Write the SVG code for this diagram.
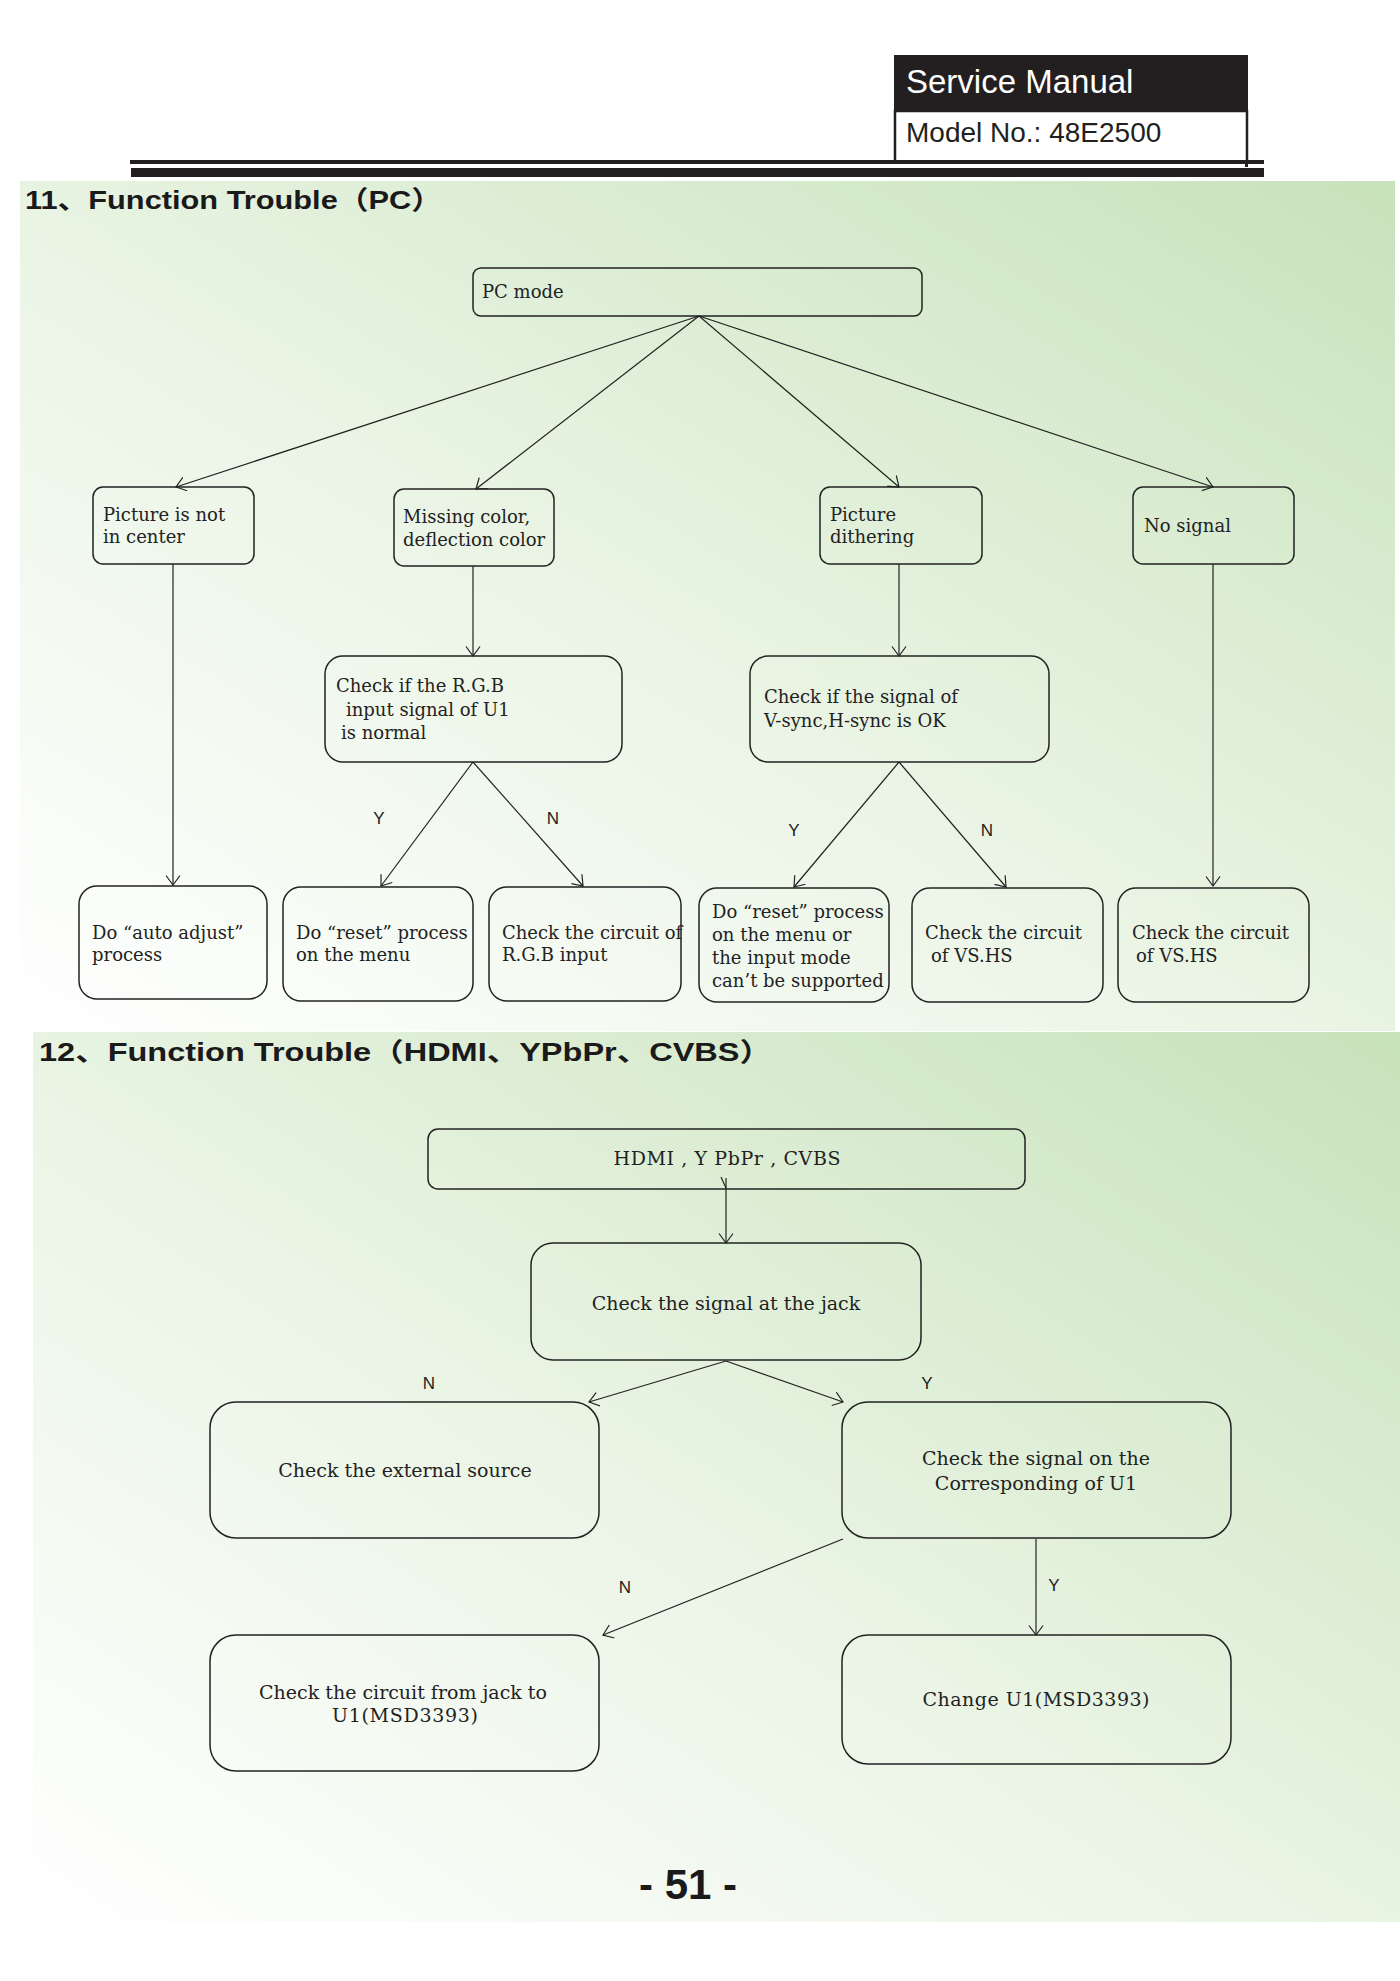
<svg xmlns="http://www.w3.org/2000/svg" width="1400" height="1981" viewBox="0 0 1400 1981">
<defs>
<linearGradient id="bg" x1="0" y1="1" x2="1" y2="0">
<stop offset="0" stop-color="#ffffff"/>
<stop offset="0.45" stop-color="#ebf5e6"/>
<stop offset="1" stop-color="#c8e2bb"/>
</linearGradient>
<marker id="arr" markerWidth="12" markerHeight="16" refX="10" refY="7.5" orient="auto" markerUnits="userSpaceOnUse">
<path d="M0.5,0.5 L10,7.5 L0.5,14.5" fill="none" stroke="#222" stroke-width="1.2"/>
</marker>
<style>
.box { fill: none; stroke: #222; stroke-width: 1.5; }
.ln { fill: none; stroke: #222; stroke-width: 1.2; marker-end: url(#arr); }
.t { font-family: "DejaVu Serif", serif; font-size: 18px; fill: #222; }
.tc { font-family: "DejaVu Serif", serif; font-size: 19px; fill: #222; text-anchor: middle; }
.yn { font-family: "Liberation Sans", Arial, sans-serif; font-size: 17px; fill: #222; text-anchor: middle; }
.title { font-family: "Liberation Sans", Arial, "Noto Sans CJK SC", sans-serif; font-weight: bold; font-size: 26px; fill: #1a1a1a; }
</style>
</defs>
<rect width="1400" height="1981" fill="#ffffff"/>

<g id="header">
<rect x="894" y="55" width="354" height="56" fill="#231f20"/>
<rect x="895" y="111" width="352" height="51" fill="#ffffff" stroke="#231f20" stroke-width="2.5"/>
<text x="906" y="93" font-family="Liberation Sans, Arial, sans-serif" font-size="33" fill="#ffffff">Service Manual</text>
<text x="906" y="142" font-family="Liberation Sans, Arial, sans-serif" font-size="28" fill="#231f20">Model No.: 48E2500</text>
<rect x="130" y="160" width="1134" height="4" fill="#231f20"/>
<rect x="1245" y="160" width="3" height="7" fill="#231f20"/>
<rect x="131" y="168" width="1133" height="9" fill="#231f20"/>
</g>

<g id="backgrounds">
<rect x="20" y="181" width="1375" height="850" fill="url(#bg)"/>
<rect x="33" y="1032" width="1367" height="890" fill="url(#bg)"/>
</g>

<g id="titles">
<text class="title" x="25" y="209" textLength="417" lengthAdjust="spacingAndGlyphs">11、Function Trouble（PC）</text>
<text class="title" x="39" y="1061" textLength="733" lengthAdjust="spacingAndGlyphs">12、Function Trouble（HDMI、YPbPr、CVBS）</text>
</g>

<g id="connectors">
<line class="ln" x1="699" y1="316" x2="176" y2="487"/>
<line class="ln" x1="699" y1="316" x2="476" y2="489"/>
<line class="ln" x1="699" y1="316" x2="899" y2="487"/>
<line class="ln" x1="699" y1="316" x2="1213" y2="487"/>
<line class="ln" x1="173" y1="564" x2="173" y2="885"/>
<line class="ln" x1="473" y1="566" x2="473" y2="656"/>
<line class="ln" x1="899" y1="564" x2="899" y2="656"/>
<line class="ln" x1="1213" y1="564" x2="1213" y2="886"/>
<line class="ln" x1="473" y1="762" x2="381" y2="886"/>
<line class="ln" x1="473" y1="762" x2="583" y2="886"/>
<line class="ln" x1="899" y1="762" x2="794" y2="887"/>
<line class="ln" x1="899" y1="762" x2="1006" y2="887"/>
<line x1="721" y1="1177" x2="726" y2="1188" stroke="#222" stroke-width="1.2"/>
<line class="ln" x1="726" y1="1178" x2="726" y2="1243"/>
<line class="ln" x1="726" y1="1361" x2="589" y2="1402"/>
<line class="ln" x1="726" y1="1361" x2="843" y2="1402"/>
<line class="ln" x1="843" y1="1539" x2="603" y2="1635"/>
<line class="ln" x1="1036" y1="1539" x2="1036" y2="1635"/>
<text class="yn" x="379" y="824">Y</text>
<text class="yn" x="553" y="824">N</text>
<text class="yn" x="794" y="836">Y</text>
<text class="yn" x="987" y="836">N</text>
<text class="yn" x="429" y="1389">N</text>
<text class="yn" x="927" y="1389">Y</text>
<text class="yn" x="625" y="1593">N</text>
<text class="yn" x="1054" y="1591">Y</text>
</g>

<g id="pc-mode">
<rect class="box" x="473" y="268" width="449" height="48" rx="8"/>
<text class="t" x="482" y="298">PC mode</text>
</g>
<g id="not-center">
<rect class="box" x="93" y="487" width="161" height="77" rx="10"/>
<text class="t" x="103" y="521">Picture is not</text>
<text class="t" x="103" y="543">in center</text>
</g>
<g id="missing-color">
<rect class="box" x="394" y="489" width="160" height="77" rx="10"/>
<text class="t" x="403" y="523">Missing color,</text>
<text class="t" x="403" y="546">deflection color</text>
</g>
<g id="dithering">
<rect class="box" x="820" y="487" width="162" height="77" rx="10"/>
<text class="t" x="830" y="521">Picture</text>
<text class="t" x="830" y="543">dithering</text>
</g>
<g id="no-signal">
<rect class="box" x="1133" y="487" width="161" height="77" rx="10"/>
<text class="t" x="1144" y="532">No signal</text>
</g>
<g id="check-rgb">
<rect class="box" x="325" y="656" width="297" height="106" rx="18"/>
<text class="t" x="336" y="692">Check if the R.G.B</text>
<text class="t" x="346" y="716">input signal of U1</text>
<text class="t" x="341" y="739">is normal</text>
</g>
<g id="check-sync">
<rect class="box" x="750" y="656" width="299" height="106" rx="18"/>
<text class="t" x="764" y="703">Check if the signal of</text>
<text class="t" x="764" y="727">V-sync,H-sync is OK</text>
</g>
<g id="auto-adjust">
<rect class="box" x="79" y="886" width="188" height="113" rx="18"/>
<text class="t" x="92" y="939">Do “auto adjust”</text>
<text class="t" x="92" y="961">process</text>
</g>
<g id="reset-menu">
<rect class="box" x="283" y="887" width="190" height="114" rx="18"/>
<text class="t" x="296" y="939">Do “reset” process</text>
<text class="t" x="296" y="961">on the menu</text>
</g>
<g id="rgb-circuit">
<rect class="box" x="489" y="887" width="192" height="114" rx="18"/>
<text class="t" x="502" y="939">Check the circuit of</text>
<text class="t" x="502" y="961">R.G.B input</text>
</g>
<g id="reset-input">
<rect class="box" x="699" y="888" width="190" height="114" rx="18"/>
<text class="t" x="712" y="918">Do “reset” process</text>
<text class="t" x="712" y="941">on the menu or</text>
<text class="t" x="712" y="964">the input mode</text>
<text class="t" x="712" y="987">can’t be supported</text>
</g>
<g id="vshs-1">
<rect class="box" x="912" y="888" width="191" height="114" rx="18"/>
<text class="t" x="925" y="939">Check the circuit</text>
<text class="t" x="931" y="962">of VS.HS</text>
</g>
<g id="vshs-2">
<rect class="box" x="1118" y="888" width="191" height="114" rx="18"/>
<text class="t" x="1132" y="939">Check the circuit</text>
<text class="t" x="1136" y="962">of VS.HS</text>
</g>

<g id="hdmi">
<rect class="box" x="428" y="1129" width="597" height="60" rx="10"/>
<text class="tc" x="727" y="1165" textLength="227">HDMI , Y PbPr , CVBS</text>
</g>
<g id="check-jack">
<rect class="box" x="531" y="1243" width="390" height="117" rx="22"/>
<text class="tc" x="726" y="1310">Check the signal at the jack</text>
</g>
<g id="external-source">
<rect class="box" x="210" y="1402" width="389" height="136" rx="26"/>
<text class="tc" x="405" y="1477">Check the external source</text>
</g>
<g id="check-u1">
<rect class="box" x="842" y="1402" width="389" height="136" rx="26"/>
<text class="tc" x="1036" y="1465">Check the signal on the</text>
<text class="tc" x="1036" y="1490">Corresponding of U1</text>
</g>
<g id="jack-circuit">
<rect class="box" x="210" y="1635" width="389" height="136" rx="26"/>
<text class="tc" x="403" y="1699">Check the circuit from jack to</text>
<text class="tc" x="405" y="1722" textLength="146">U1(MSD3393)</text>
</g>
<g id="change-u1">
<rect class="box" x="842" y="1635" width="389" height="129" rx="26"/>
<text class="tc" x="1036" y="1706" textLength="227">Change U1(MSD3393)</text>
</g>

<g id="page-number">
<text x="688" y="1899" font-family="Liberation Sans, Arial, sans-serif" font-weight="bold" font-size="42" fill="#1a1a1a" text-anchor="middle">- 51 -</text>
</g>
</svg>
